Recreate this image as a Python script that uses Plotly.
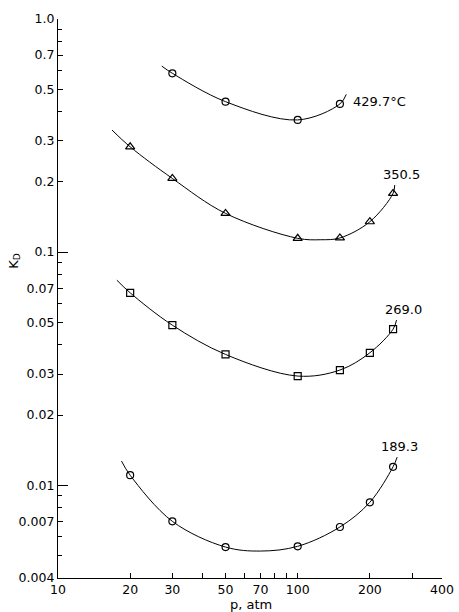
import numpy as np
import plotly.graph_objects as go

# ---- data ----
p_429 = [30, 50, 100, 150]
k_429 = [0.585, 0.442, 0.369, 0.432]
p_429_fit = [27.1, 30, 50, 100, 150, 159.5]
k_429_fit = [0.628, 0.585, 0.442, 0.369, 0.432, 0.475]

p_350 = [20, 30, 50, 100, 150, 200, 250]
k_350 = [0.283, 0.207, 0.1466, 0.1146, 0.115, 0.135, 0.1786]
p_350_fit = [16.8, 20, 30, 50, 100, 125, 150, 200, 250, 254]
k_350_fit = [0.334, 0.283, 0.207, 0.1466, 0.1146, 0.113, 0.115, 0.135, 0.1786, 0.194]

p_269 = [20, 30, 50, 100, 150, 200, 250]
k_269 = [0.0669, 0.0486, 0.0364, 0.0294, 0.0312, 0.037, 0.0467]
p_269_fit = [17.6, 20, 30, 50, 100, 150, 200, 250, 258.5]
k_269_fit = [0.0758, 0.0669, 0.0486, 0.0364, 0.0294, 0.0312, 0.037, 0.0467, 0.0511]

p_189 = [20, 30, 50, 100, 150, 200, 250]
k_189 = [0.01104, 0.0070, 0.00543, 0.00547, 0.00662, 0.00845, 0.0120]
p_189_fit = [18.4, 20, 30, 50, 70, 100, 150, 200, 250, 260]
k_189_fit = [0.0127, 0.01104, 0.0070, 0.00543, 0.00522, 0.00547, 0.00662, 0.00845, 0.0120, 0.0132]

labels = ["429.7°C", "350.5", "269.0", "189.3"]

x_tickvals = [10, 20, 30, 50, 70, 100, 200, 400]
x_ticktext = ["10", "20", "30", "50", "70", "100", "200", "400"]
x_minor = [40, 60, 80, 90, 300]

y_tickvals = [1.0, 0.7, 0.5, 0.3, 0.2, 0.1, 0.07, 0.05, 0.03, 0.02, 0.01, 0.007, 0.004]
y_ticktext = ["1.0", "0.7", "0.5", "0.3", "0.2", "0.1", "0.07", "0.05", "0.03", "0.02", "0.01", "0.007", "0.004"]
y_minor = [0.9, 0.8, 0.6, 0.4, 0.09, 0.08, 0.06, 0.04, 0.009, 0.008, 0.006, 0.005]
y_long = [1.0, 0.1, 0.01]

FONT = "DejaVu Sans"
fig = go.Figure()

series = [
    (p_429_fit, k_429_fit, p_429, k_429, "circle-open", 7),
    (p_350_fit, k_350_fit, p_350, k_350, "triangle-up-open", 8),
    (p_269_fit, k_269_fit, p_269, k_269, "square-open", 7),
    (p_189_fit, k_189_fit, p_189, k_189, "circle-open", 7),
]
for pf, kf, pp, kk, sym, sz in series:
    fig.add_trace(go.Scatter(x=pf, y=kf, mode="lines",
                             line=dict(color="black", width=1, shape="spline", smoothing=1.0),
                             showlegend=False, hoverinfo="skip"))
    fig.add_trace(go.Scatter(x=pp, y=kk, mode="markers",
                             marker=dict(symbol=sym, size=sz, color="black",
                                         line=dict(color="black", width=1.2)),
                             showlegend=False))

# invisible trace for the overlay axis with long ticks
fig.add_trace(go.Scatter(x=[10], y=[0.1], yaxis="y2", mode="markers",
                         marker=dict(opacity=0), showlegend=False, hoverinfo="skip"))

xr = [1, np.log10(400)]
yr = [np.log10(0.004), 0]

fig.update_layout(
    width=459, height=612, autosize=False,
    margin=dict(l=58, r=17, t=19, b=34),
    paper_bgcolor="white", plot_bgcolor="white",
    font=dict(family=FONT, size=12, color="black"),
    xaxis=dict(type="log", range=xr, showgrid=False, zeroline=False, automargin=False,
               showline=True, linecolor="black", linewidth=1.2,
               tickmode="array", tickvals=x_tickvals, ticktext=x_ticktext,
               ticks="inside", ticklen=5, tickcolor="black", tickwidth=1,
               minor=dict(tickmode="array", tickvals=x_minor, ticks="inside",
                          ticklen=5, tickcolor="black", showgrid=False),
               tickfont=dict(family=FONT, size=12.5)),
    yaxis=dict(type="log", range=yr, showgrid=False, zeroline=False, automargin=False,
               showline=True, linecolor="black", linewidth=1.2,
               tickmode="array", tickvals=y_tickvals, ticktext=y_ticktext,
               ticks="inside", ticklen=5, tickcolor="black", tickwidth=1,
               minor=dict(tickmode="array", tickvals=y_minor, ticks="inside",
                          ticklen=4, tickcolor="black", showgrid=False),
               tickfont=dict(family=FONT, size=12.5)),
    yaxis2=dict(type="log", range=yr, overlaying="y", anchor="x", side="left",
                automargin=False,
                showgrid=False, zeroline=False, showline=False,
                tickmode="array", tickvals=y_long, showticklabels=False,
                ticks="inside", ticklen=10, tickcolor="black", tickwidth=1),
)

label_pos = [(2.222, -0.355), (2.346, -0.665), (2.354, -1.245), (2.3375, -1.833)]
for txt, (lx, ly) in zip(labels, label_pos):
    fig.add_annotation(x=lx, y=ly, xref="x", yref="y", text=txt, showarrow=False,
                       xanchor="left", yanchor="middle",
                       font=dict(family=FONT, size=13, color="black"))

fig.add_annotation(x=0.503, y=-0.048, xref="paper", yref="paper", text="p, atm",
                   showarrow=False, xanchor="center", yanchor="middle",
                   font=dict(family=FONT, size=13, color="black"))
fig.add_annotation(x=-0.114, y=0.568, xref="paper", yref="paper", text="K<sub>D</sub>",
                   showarrow=False, textangle=-90, xanchor="center", yanchor="middle",
                   font=dict(family=FONT, size=13, color="black"))

fig.write_html(
    "out.html",
    config={"displayModeBar": False},
    post_script="document.body.style.margin='0';document.body.style.padding='0';"
                "document.documentElement.style.overflow='hidden';",
)
